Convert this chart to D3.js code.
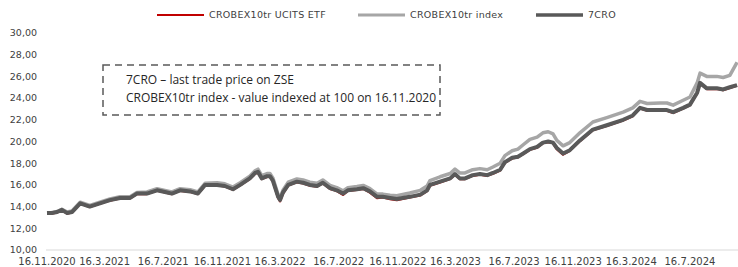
<!DOCTYPE html>
<html>
<head>
<meta charset="utf-8">
<script src="https://cdn.jsdelivr.net/npm/d3@7"></script>
<style>
  body { margin: 0; background: #fff; }
  svg { display: block; font-family: "DejaVu Sans", sans-serif; }
</style>
</head>
<body>
<svg id="chart" width="738" height="267"></svg>
<script>
// dates of the points
const dates = [
  '2020-11-16','2020-11-26','2020-12-07','2020-12-17','2020-12-28','2021-01-07','2021-01-24','2021-02-13',
  '2021-03-06','2021-03-27','2021-04-17','2021-05-08','2021-05-22','2021-06-12','2021-07-03','2021-07-24',
  '2021-08-03','2021-08-20','2021-09-10','2021-09-26','2021-10-11','2021-11-05','2021-11-21','2021-12-08',
  '2021-12-23','2022-01-12','2022-01-23','2022-01-29','2022-02-06','2022-02-17','2022-02-23','2022-03-01',
  '2022-03-12','2022-03-16','2022-03-22','2022-04-02','2022-04-20','2022-05-03','2022-05-17','2022-06-01',
  '2022-06-13','2022-06-28','2022-07-12','2022-07-25','2022-08-04','2022-08-23','2022-09-05','2022-09-19',
  '2022-10-04','2022-10-16','2022-10-31','2022-11-14','2022-12-11','2023-01-02','2023-01-16','2023-01-22',
  '2023-02-12','2023-03-05','2023-03-15','2023-03-25','2023-04-05','2023-04-21','2023-05-06','2023-05-21',
  '2023-06-02','2023-06-17','2023-06-27','2023-07-12','2023-07-24','2023-08-04','2023-08-18','2023-09-02',
  '2023-09-14','2023-09-25','2023-10-05','2023-10-13','2023-10-26','2023-11-09','2023-11-30','2023-12-27',
  '2024-01-25','2024-02-28','2024-03-19','2024-04-03','2024-04-18','2024-05-15','2024-05-29','2024-06-11',
  '2024-07-02','2024-07-16','2024-07-31','2024-08-06','2024-08-20','2024-09-10','2024-09-23','2024-10-07',
  '2024-10-22'
];

const etf = [
  13.37,13.37,13.47,13.67,13.37,13.47,14.27,13.97,14.27,14.57,14.77,14.77,15.17,15.17,15.47,15.27,
  15.17,15.47,15.37,15.17,15.97,15.97,15.87,15.57,15.97,16.55,17.05,17.15,16.55,16.75,16.75,16.35,
  14.8,14.5,15.2,15.95,16.25,16.15,15.95,15.85,16.15,15.65,15.45,15.1,15.45,15.55,15.65,15.3,
  14.8,14.85,14.7,14.6,14.85,15.05,15.45,15.95,16.25,16.55,16.95,16.55,16.55,16.85,16.95,16.85,
  17.05,17.35,18.05,18.45,18.55,18.85,19.25,19.45,19.85,19.95,19.85,19.3,18.8,19.15,20.05,21.05,
  21.45,21.95,22.35,23.05,22.85,22.85,22.85,22.65,23.05,23.35,24.45,25.35,24.85,24.85,24.75,24.95,
  25.15
];

const index10tr = [
  13.4,13.45,13.55,13.75,13.5,13.6,14.4,14.1,14.4,14.7,14.9,14.9,15.3,15.35,15.65,15.45,
  15.35,15.65,15.55,15.35,16.15,16.2,16.1,15.8,16.2,16.8,17.3,17.45,16.85,17.05,17.05,16.65,
  15.1,14.8,15.5,16.25,16.55,16.45,16.25,16.15,16.45,15.95,15.75,15.45,15.75,15.85,15.95,15.65,
  15.15,15.15,15.05,15.0,15.25,15.5,15.9,16.4,16.75,17.05,17.45,17.1,17.1,17.4,17.5,17.4,
  17.65,18.0,18.7,19.15,19.3,19.7,20.2,20.4,20.8,20.9,20.7,20.1,19.6,19.9,20.8,21.8,
  22.2,22.7,23.1,23.7,23.5,23.55,23.55,23.35,23.8,24.1,25.4,26.3,26.0,26.0,25.9,26.1,
  27.3
];

const cro7 = [
  13.4,13.4,13.5,13.7,13.4,13.5,14.3,14.0,14.3,14.6,14.8,14.8,15.2,15.2,15.5,15.3,
  15.2,15.5,15.4,15.2,16.0,16.0,15.9,15.6,16.0,16.6,17.1,17.2,16.6,16.8,16.8,16.4,
  14.9,14.6,15.3,16.0,16.3,16.2,16.0,15.9,16.2,15.7,15.5,15.2,15.5,15.6,15.7,15.4,
  14.9,14.9,14.8,14.7,14.9,15.1,15.5,16.0,16.3,16.6,17.0,16.6,16.6,16.9,17.0,16.9,
  17.1,17.4,18.1,18.5,18.6,18.9,19.3,19.5,19.9,20.0,19.9,19.4,18.9,19.2,20.1,21.1,
  21.5,22.0,22.4,23.1,22.9,22.9,22.9,22.7,23.1,23.4,24.5,25.4,24.9,24.9,24.8,25.0,
  25.2
];

const yTicks = [10, 12, 14, 16, 18, 20, 22, 24, 26, 28, 30];
const xTicks = ['2020-11-16','2021-03-16','2021-07-16','2021-11-16','2022-03-16','2022-07-16',
  '2022-11-16','2023-03-16','2023-07-16','2023-11-16','2024-03-16','2024-07-16'];

const series = [
  { name: 'CROBEX10tr UCITS ETF', values: etf, color: '#c00000', width: 2.5 },
  { name: 'CROBEX10tr index', values: index10tr, color: '#a6a6a6', width: 3.5 },
  { name: '7CRO', values: cro7, color: '#595959', width: 4 }
];

const parse = d3.timeParse('%Y-%m-%d');
const svg = d3.select('#chart');

const x = d3.scaleTime()
  .domain([parse('2020-11-16'), parse('2024-10-24')])
  .range([47, 738]);
const y = d3.scaleLinear().domain([10, 30]).range([250, 33]);

// y labels (no axis line, no gridlines)
svg.append('g')
  .selectAll('text').data(yTicks)
  .enter().append('text')
  .attr('x', 37)
  .attr('y', d => y(d))
  .attr('dy', '0.35em')
  .attr('text-anchor', 'end')
  .attr('font-size', '9.5px')
  .attr('fill', '#404040')
  .text(d => d3.format('.2f')(d).replace('.', ','));

// bottom axis line
svg.append('line')
  .attr('x1', 46).attr('x2', 738)
  .attr('y1', y(10)).attr('y2', y(10))
  .attr('stroke', '#d9d9d9').attr('stroke-width', 1);

svg.append('g')
  .selectAll('text').data(xTicks)
  .enter().append('text')
  .attr('x', d => x(parse(d)))
  .attr('y', 261)
  .attr('dy', '0.35em')
  .attr('text-anchor', 'middle')
  .attr('font-size', '10px')
  .attr('fill', '#404040')
  .text(d => d3.timeFormat('%-d.%-m.%Y')(parse(d)));

const line = d3.line()
  .x((d, i) => x(parse(dates[i])))
  .y(d => y(d));

svg.append('g')
  .selectAll('path').data(series)
  .enter().append('path')
  .attr('d', d => line(d.values))
  .attr('fill', 'none')
  .attr('stroke', d => d.color)
  .attr('stroke-width', d => d.width)
  .attr('stroke-linejoin', 'round');

// legend
const legendX = [157, 358, 536];
const leg = svg.append('g')
  .selectAll('g').data(series)
  .enter().append('g')
  .attr('transform', (d, i) => `translate(${legendX[i]},15)`);
leg.append('line')
  .attr('x1', 0).attr('x2', 47)
  .attr('stroke', d => d.color)
  .attr('stroke-width', d => d.width - 0.5);
leg.append('text')
  .attr('x', 52)
  .attr('dy', '0.35em')
  .attr('font-size', '9.5px')
  .attr('letter-spacing', '0.3px')
  .attr('fill', '#404040')
  .text(d => d.name);

// note box
svg.append('rect')
  .attr('x', 103).attr('y', 65)
  .attr('width', 337).attr('height', 50)
  .attr('fill', 'none')
  .attr('stroke', '#595959')
  .attr('stroke-width', 1.5)
  .attr('stroke-dasharray', '7,5');

const note = svg.append('g').attr('font-family', '"Open Sans", sans-serif')
  .attr('font-size', '12px').attr('fill', '#262626');
note.append('text').attr('x', 126).attr('y', 80).attr('dy', '0.35em')
  .text('7CRO  \u2013 last trade price on ZSE');
note.append('text').attr('x', 126).attr('y', 98).attr('dy', '0.35em')
  .text('CROBEX10tr index - value indexed at 100 on 16.11.2020');
</script>
</body>
</html>
